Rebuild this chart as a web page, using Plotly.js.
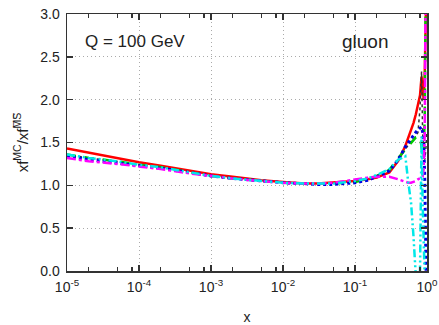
<!DOCTYPE html>
<html><head><meta charset="utf-8">
<script src="https://cdn.plot.ly/plotly-3.0.1.min.js"></script>
<style>html,body{margin:0;padding:0;background:#fff;}#plot{width:439px;height:325px;}</style>
</head><body><div id="plot"></div>
<script>
// x grid shared by all curves
const xVals = [1e-5,2e-5,5e-5,1e-4,2e-4,5e-4,1e-3,2e-3,5e-3,1e-2,2e-2,3e-2,5e-2,0.1,0.15,0.2,0.3,0.4,0.5,0.55,0.6,0.65,0.7,0.75,0.8,0.84,0.87,0.9,0.93,0.96,0.99];
const redVals     = [1.43,1.38,1.32,1.27,1.23,1.17,1.13,1.10,1.06,1.04,1.02,1.02,1.03,1.05,1.07,1.09,1.15,1.29,1.46,1.55,1.64,1.73,1.83,1.93,2.05,2.27,2.10,2.00,2.30,2.80,3.50];
const blackVals   = [1.36,1.32,1.28,1.24,1.21,1.15,1.11,1.08,1.05,1.03,1.02,1.02,1.02,1.04,1.07,1.11,1.18,1.31,1.43,1.47,1.51,1.54,1.57,1.62,1.90,2.33,1.60,1.40,1.30,1.40,1.60];
const greenVals   = [1.36,1.32,1.28,1.24,1.21,1.15,1.11,1.08,1.05,1.03,1.02,1.02,1.02,1.04,1.07,1.11,1.18,1.32,1.42,1.46,1.50,1.53,1.56,1.57,1.57,1.45,1.35,1.40,1.80,3.20,4.00];
const blueVals    = [1.34,1.30,1.26,1.23,1.20,1.15,1.11,1.08,1.05,1.03,1.02,1.01,1.01,1.03,1.06,1.10,1.17,1.30,1.45,1.50,1.55,1.59,1.62,1.65,1.67,1.68,1.62,1.50,1.10,0.40,-0.50];
const magentaVals = [1.32,1.28,1.25,1.22,1.19,1.14,1.11,1.08,1.05,1.03,1.02,1.02,1.03,1.07,1.09,1.10,1.10,1.07,1.04,1.03,1.03,1.04,1.05,1.07,1.08,1.09,1.10,1.20,1.60,3.50,5.00];
const cyanVals    = [1.36,1.32,1.28,1.24,1.21,1.15,1.11,1.08,1.05,1.03,1.02,1.02,1.02,1.05,1.08,1.12,1.19,1.30,1.34,1.03,0.80,0.40,0.00,-0.50,0.00,1.57,0.80,-0.30,-0.50,-0.50,-0.50];

const majorTicks = [1e-5,1e-4,1e-3,1e-2,1e-1,1];
const majorText = ['10<sup>-5</sup>','10<sup>-4</sup>','10<sup>-3</sup>','10<sup>-2</sup>','10<sup>-1</sup>','10<sup>0</sup>'];
const minorTicks = [2e-5,5e-5,8e-5,2e-4,5e-4,8e-4,2e-3,5e-3,8e-3,2e-2,5e-2,8e-2,0.2,0.5,0.8];
const yTicks = [0,0.5,1,1.5,2,2.5,3];
const yText = ['0.0','0.5','1.0','1.5','2.0','2.5','3.0'];

const series = [
  {y: redVals, color:'#ff0000', dash:'solid', width:2.5},
  {y: blackVals, color:'#333333', dash:'dot', width:1.5},
  {y: greenVals, color:'#00c800', dash:'dash', width:2.5},
  {y: blueVals, color:'#0000e0', dash:'dot', width:3},
  {y: magentaVals, color:'#ff00ff', dash:'dashdot', width:2.5},
  {y: cyanVals, color:'#00e8e8', dash:'8px,3px,2px,3px,2px,3px', width:2.5}
];
const traces = series.map(s => ({
  x: xVals, y: s.y, type:'scatter', mode:'lines',
  line:{color:s.color, dash:s.dash, width:s.width},
  showlegend:false, hoverinfo:'skip'
}));

const font = {family:'Liberation Sans, Arial, sans-serif', color:'#222', size:14};
const layout = {
  width:439, height:325,
  margin:{l:67, r:12, t:14, b:54},
  paper_bgcolor:'#fff', plot_bgcolor:'#fff',
  font: font,
  showlegend:false,
  xaxis:{
    type:'log', range:[-5,0],
    tickvals: majorTicks, ticktext: majorText,
    ticks:'inside', ticklen:6, tickwidth:1.5, tickcolor:'#333',
    showline:true, linecolor:'#333', linewidth:1.5, mirror:'ticks',
    showgrid:true, gridcolor:'#aaa', griddash:'1px,3px', gridwidth:1,
    minor:{tickvals: minorTicks, ticks:'inside', ticklen:4, tickwidth:1.5, tickcolor:'#333', showgrid:false},
    zeroline:false,
    tickfont:{size:14, color:'#222'},
    ticklabelstandoff:3,
    title:{text:'x', font:{size:14, color:'#222'}, standoff:20}
  },
  yaxis:{
    range:[0,3],
    tickvals: yTicks, ticktext: yText,
    ticks:'inside', ticklen:6, tickwidth:1.5, tickcolor:'#333',
    showline:true, linecolor:'#333', linewidth:1.5, mirror:'ticks',
    showgrid:true, gridcolor:'#aaa', griddash:'1px,3px', gridwidth:1,
    zeroline:false,
    tickfont:{size:14, color:'#222'},
    ticklabelstandoff:3,
    title:{text:'xf<sup>MC</sup>/xf<sup>M\u0305S\u0305</sup>', font:{size:15, color:'#222'}, standoff:8}
  },
  annotations:[
    {text:'Q = 100 GeV', xref:'paper', yref:'paper', x:0.19, y:0.893, xanchor:'center', yanchor:'middle', showarrow:false, font:{size:17, color:'#222'}},
    {text:'gluon', xref:'paper', yref:'paper', x:0.83, y:0.893, xanchor:'center', yanchor:'middle', showarrow:false, font:{size:19, color:'#222'}}
  ]
};
Plotly.newPlot('plot', traces, layout, {staticPlot:true, displayModeBar:false});
</script></body></html>
